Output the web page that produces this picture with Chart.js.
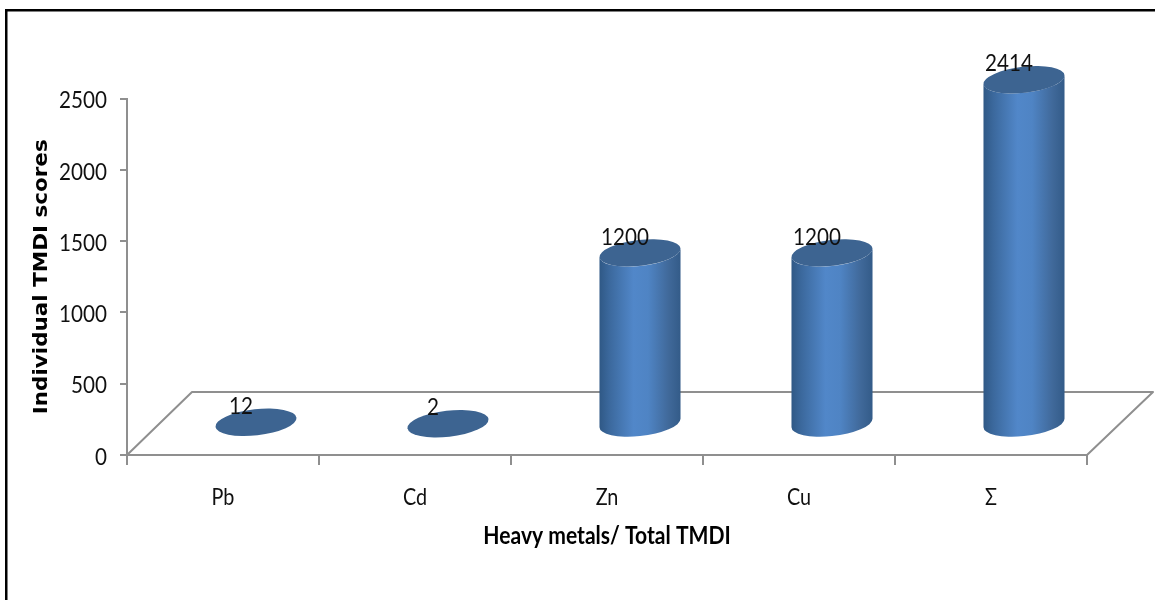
<!DOCTYPE html>
<html><head><meta charset="utf-8">
<style>html,body{margin:0;padding:0;background:#fff}canvas{display:block;filter:blur(0.4px)}</style>
<script src="https://cdn.jsdelivr.net/npm/chart.js@4"></script>
</head><body><canvas id="c" width="1155" height="600"></canvas>
<script>
const categories = ['Pb','Cd','Zn','Cu','Σ'];
const scores = [12,2,1200,1200,2414];
const yTicks = [0,500,1000,1500,2000,2500];
const yTitle = 'Individual TMDI scores';
const xTitle = 'Heavy metals/ Total TMDI';

const NARROW = 'Lato,"Liberation Sans",sans-serif';
const WIDE = '"DejaVu Sans",sans-serif';
const DEPTH_X = 65, DEPTH_Y = 63, SHIFT_X = 33, SHIFT_Y = 31;
const TILT = -6.5*Math.PI/180, MINOR = 13;

const canvas=document.getElementById('c');
const ctx0=canvas.getContext('2d');
const rawFill=ctx0.fillText.bind(ctx0);
ctx0.fillText=function(t,x,y,m){
  const f=ctx0.font;
  const k=f.indexOf('Lato')>=0?0.86:(f.indexOf('DejaVu')>=0?1.13:1);
  const dy=ctx0.textAlign==='right'?2:0;
  ctx0.save();ctx0.translate(x,y+dy);ctx0.scale(k,1);rawFill(t,0,0);ctx0.restore();
};

const cyl = {
  id:'cyl',
  beforeDraw(chart){
    const c=chart.ctx; c.save();
    c.fillStyle='#000';
    c.fillRect(5,9,1150,2.5); c.fillRect(5,9,2.5,591);
    c.restore();
  },
  beforeDatasetsDraw(chart){
    const c=chart.ctx,a=chart.chartArea; c.save();
    c.strokeStyle='#8f8f8f'; c.lineWidth=2; c.lineJoin='round';
    c.beginPath();
    c.moveTo(a.left,a.bottom);
    c.lineTo(a.left+DEPTH_X,a.bottom-DEPTH_Y);
    c.lineTo(a.right+DEPTH_X+1,a.bottom-DEPTH_Y);
    c.lineTo(a.right,a.bottom);
    c.stroke();
    c.restore();
  },
  afterDatasetsDraw(chart){
    const c=chart.ctx, meta=chart.getDatasetMeta(0);
    meta.data.forEach((bar,i)=>{
      const cx=bar.x+SHIFT_X, rx=bar.width/2;
      const yb=bar.base-SHIFT_Y, yt=bar.y-SHIFT_Y;
      const t0=Math.atan(-(MINOR/rx)*Math.tan(TILT));
      if(scores[i]>50){
        const g=c.createLinearGradient(cx-rx,0,cx+rx,0);
        g.addColorStop(0,'#2f5885');g.addColorStop(.12,'#3b689c');
        g.addColorStop(.42,'#5187c9');g.addColorStop(.6,'#4f84c4');
        g.addColorStop(.85,'#40699a');g.addColorStop(1,'#335b88');
        c.save();
        c.beginPath();
        c.ellipse(cx,yt,rx,MINOR,TILT,t0,t0+Math.PI,false);
        c.ellipse(cx,yb,rx,MINOR,TILT,t0+Math.PI,t0,true);
        c.closePath();
        c.fillStyle=g;c.fill();
        c.restore();
      }
      c.save();
      c.beginPath();
      c.ellipse(cx,yt,rx,MINOR,TILT,0,Math.PI*2);
      c.fillStyle='#3d6491';c.fill();
      c.restore();
      c.save();
      c.font='24px '+NARROW;c.fillStyle='#111';c.textAlign='center';c.textBaseline='middle';
      c.fillText(String(scores[i]),cx-15,yt-16);
      c.restore();
    });
  }
};

new Chart(canvas,{
  type:'bar',
  data:{labels:categories,datasets:[{data:scores,backgroundColor:'rgba(0,0,0,0)',barPercentage:.4245,categoryPercentage:1}]},
  options:{
    responsive:false,animation:false,
    layout:{padding:{top:98.5,right:68,bottom:0,left:0}},
    plugins:{legend:{display:false},tooltip:{enabled:false}},
    scales:{
      x:{
        afterFit(s){s.height=145;},
        grid:{drawOnChartArea:false,color:'#8f8f8f',lineWidth:2,tickLength:10},
        border:{color:'#8f8f8f',width:2},
        ticks:{color:'#111',font:{family:NARROW,size:23},padding:19,maxRotation:0},
        title:{display:true,text:xTitle,color:'#000',font:{family:NARROW,size:24.5,weight:'bold'},padding:{top:0,bottom:49}}
      },
      y:{
        min:0,max:2500,
        afterFit(s){s.width=127;},
        afterBuildTicks(s){s.ticks=yTicks.map(v=>({value:v}));},
        grid:{drawOnChartArea:false,color:'#8f8f8f',lineWidth:2,tickLength:7},
        border:{color:'#8f8f8f',width:2},
        ticks:{color:'#111',font:{family:NARROW,size:24},padding:13,callback:v=>String(v)},
        title:{display:true,text:yTitle,color:'#000',font:{family:WIDE,size:19,weight:'bold'},padding:{top:31,bottom:0}}
      }
    }
  },
  plugins:[cyl]
});
</script></body></html>
